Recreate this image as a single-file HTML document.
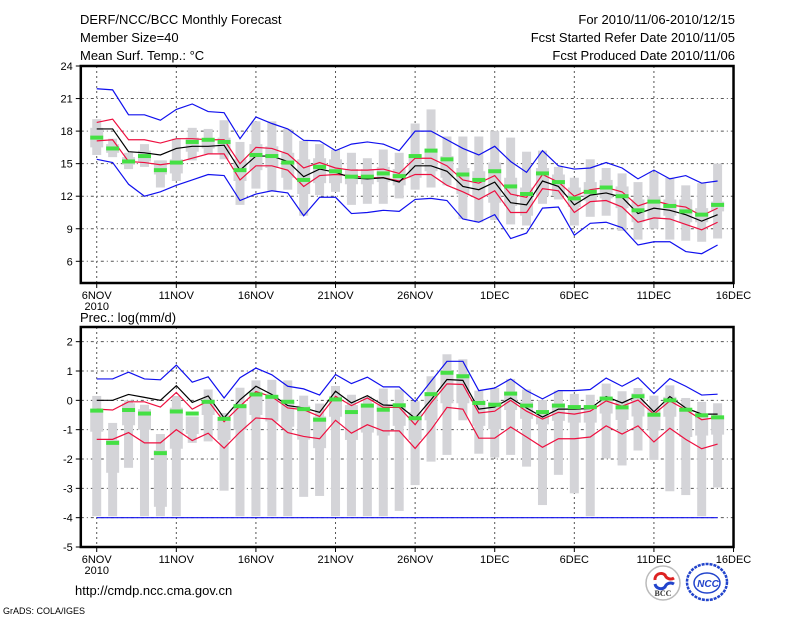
<!DOCTYPE html>
<html><head><meta charset="utf-8"><style>
html,body{margin:0;padding:0;background:#fff;}
svg{display:block;font-family:"Liberation Sans",sans-serif;}
</style></head><body>
<svg id="chart" width="800" height="618" viewBox="0 0 800 618" xmlns="http://www.w3.org/2000/svg">
<rect width="800" height="618" fill="#fff"/>
<g font-size="13" fill="#000">
<text x="80" y="24">DERF/NCC/BCC Monthly Forecast</text>
<text x="80" y="42">Member Size=40</text>
<text x="80" y="60">Mean Surf. Temp.: °C</text>
<text x="735" y="24" text-anchor="end">For 2010/11/06-2010/12/15</text>
<text x="735" y="42" text-anchor="end">Fcst Started Refer Date 2010/11/05</text>
<text x="735" y="60" text-anchor="end">Fcst Produced Date 2010/11/06</text>
<text x="80" y="322">Prec.: log(mm/d)</text>
<text x="75" y="595">http://cmdp.ncc.cma.gov.cn</text>
<text x="3" y="614" font-size="9">GrADS: COLA/IGES</text>
</g>
<g>
<circle cx="663" cy="583" r="17" fill="#fff" stroke="#bbb" stroke-width="1.5"/>
<path d="M655 580 a6 6 0 0 1 10 -5 a6 6 0 0 0 9 3" fill="none" stroke="#d22" stroke-width="3"/>
<path d="M655 584 a6 6 0 0 0 10 3 a6 6 0 0 1 9 -3" fill="none" stroke="#24c" stroke-width="3"/>
<text x="663" y="596" font-size="8" font-weight="bold" text-anchor="middle" fill="#333" font-family="Liberation Serif,serif">BCC</text>
</g>
<g>
<ellipse cx="707" cy="582" rx="20" ry="18" fill="#fff" stroke="#24c" stroke-width="2.5" stroke-dasharray="3 1"/>
<ellipse cx="707" cy="583" rx="13" ry="10" fill="none" stroke="#24c" stroke-width="1.5"/>
<text x="708" y="587" font-size="10" font-weight="bold" font-style="italic" text-anchor="middle" fill="#24c">NCC</text>
</g>
<g id="top"></g>
<g id="bot"></g>
</svg>
<script>
const dayLabels=["6NOV","11NOV","16NOV","21NOV","26NOV","1DEC","6DEC","11DEC","16DEC"];
const tTicks=[24,21,18,15,12,9,6];
const pTicks=[2,1,0,-1,-2,-3,-4,-5];
// Temperature panel
const tBlueHi=[21.9,21.8,19.5,19.5,19.0,20.0,20.5,19.8,19.7,17.3,19.3,18.7,18.2,17.15,17.1,16.2,16.8,17.0,16.8,16.2,18.0,18.0,17.2,16.4,15.8,16.6,15.2,14.2,16.2,14.8,14.5,14.6,15.1,14.6,13.6,14.4,13.6,13.9,13.2,13.4];
const tBlueLo=[15.4,15.1,13.1,12.0,12.4,13.0,13.5,14.0,13.9,11.6,12.2,12.5,12.3,10.2,11.9,11.9,10.4,10.5,10.7,10.6,11.7,11.8,11.6,9.9,9.6,10.3,8.1,8.6,10.9,11.0,8.4,9.5,9.6,9.1,7.5,7.8,7.8,6.9,6.7,7.5];
const tRedHi=[18.8,19.1,17.2,17.2,16.9,17.3,17.3,17.2,17.2,15.0,16.5,16.4,15.9,14.6,15.1,14.6,14.4,14.4,14.5,14.1,15.5,15.5,14.8,13.5,13.2,13.9,12.2,11.9,14.0,13.3,12.0,12.6,12.8,12.4,11.1,11.6,11.2,11.0,10.2,10.9];
const tRedLo=[17.1,17.2,15.2,15.1,14.9,15.1,15.5,15.9,15.9,13.5,14.8,14.8,14.4,12.9,13.9,14.0,13.9,13.7,13.7,13.4,14.0,14.0,13.0,12.4,11.7,12.5,10.5,10.5,12.7,12.5,10.5,11.5,11.6,11.0,9.6,10.0,9.9,9.4,8.9,9.6];
const tMean=[18.2,18.2,16.1,16.0,15.8,16.4,16.6,16.6,16.7,14.4,15.7,15.7,15.2,13.8,14.5,14.2,13.7,13.6,13.7,13.3,14.8,14.8,14.3,12.9,12.6,13.3,11.4,11.2,13.4,12.9,11.2,12.1,12.3,11.9,10.4,10.9,10.7,10.3,9.7,10.3];
const tObs=[17.4,16.4,15.2,15.7,14.4,15.1,17.0,17.2,17.0,14.4,15.8,15.7,15.1,13.5,14.7,14.3,13.8,13.8,14.1,13.85,15.7,16.2,15.4,14.0,13.5,14.3,12.9,12.2,14.1,13.3,11.8,12.4,12.8,12.0,10.7,11.5,11.1,10.6,10.3,11.2];
const tWMax=[19.1,17.3,16.0,16.8,15.3,17.3,18.3,18.2,19.0,17.0,18.9,18.9,18.2,17.1,16.8,16.3,16.0,15.5,16.3,16.0,18.7,20.0,17.5,17.5,17.5,18.0,17.4,16.1,16.2,14.7,13.7,15.4,14.6,14.1,13.3,14.2,13.7,13.0,13.2,15.0];
const tWMin=[15.8,15.6,14.5,14.7,12.8,13.4,15.3,15.9,15.4,11.2,12.7,12.5,12.6,10.2,12.1,12.4,11.2,11.3,11.3,11.8,12.6,12.8,13.0,9.9,9.6,9.8,9.4,9.3,11.3,11.7,9.3,10.1,10.2,8.8,8.0,9.0,8.0,7.9,7.8,8.1];
const tBoxHi=[18.3,16.8,15.6,16.2,15.3,15.4,17.4,17.3,17.4,15.4,16.8,16.6,16.0,15.4,15.5,15.4,14.5,14.5,14.7,14.5,15.8,16.4,15.7,14.6,14.3,15.1,13.7,12.8,14.6,14.0,12.8,13.3,13.5,12.9,11.7,12.0,11.7,11.7,10.9,11.5];
const tBoxLo=[16.5,16.0,14.9,15.2,14.0,14.1,16.1,16.4,16.0,13.4,14.4,14.6,13.7,12.2,13.2,13.2,13.1,13.1,13.3,13.0,13.7,14.3,13.7,12.2,11.9,11.4,11.1,10.2,12.0,12.1,11.0,11.6,11.8,10.9,9.6,9.9,10.2,9.6,9.6,10.6];
// Precipitation panel
const pBlueHi=[0.73,0.73,0.96,0.73,0.7,1.2,0.62,0.8,0.08,0.77,1.1,0.87,0.48,0.39,0.18,0.88,0.57,0.79,0.46,0.46,-0.04,0.65,1.33,1.33,0.33,0.42,0.73,0.33,0.05,0.33,0.33,0.37,0.76,0.48,0.77,0.23,0.74,0.48,0.18,0.21];
const pBlueLo=[-4,-4,-4,-4,-4,-4,-4,-4,-4,-4,-4,-4,-4,-4,-4,-4,-4,-4,-4,-4,-4,-4,-4,-4,-4,-4,-4,-4,-4,-4,-4,-4,-4,-4,-4,-4,-4,-4,-4,-4];
const pRedHi=[-0.3,-0.33,-0.05,-0.05,-0.23,0.27,-0.3,-0.02,-0.73,-0.2,0.3,0.12,-0.26,-0.32,-0.55,0.14,-0.18,0.08,-0.24,-0.24,-0.83,-0.09,0.56,0.54,-0.43,-0.37,0.0,-0.37,-0.64,-0.41,-0.47,-0.37,-0.02,-0.2,0.01,-0.47,-0.02,-0.32,-0.66,-0.58];
const pRedLo=[-1.33,-1.33,-1.1,-1.45,-1.45,-1.0,-1.37,-1.12,-1.63,-1.08,-0.6,-0.64,-1.1,-1.23,-1.31,-0.68,-1.12,-0.83,-1.04,-1.04,-1.64,-1.0,-0.24,-0.3,-1.29,-1.29,-0.91,-1.25,-1.6,-1.31,-1.31,-1.25,-0.87,-1.15,-0.87,-1.42,-0.95,-1.33,-1.65,-1.49];
const pMean=[0,0,0.2,0.1,0,0.5,-0.07,0.15,-0.6,0.02,0.48,0.2,-0.18,-0.26,-0.41,0.31,-0.09,0.16,-0.16,-0.18,-0.61,0.02,0.71,0.68,-0.3,-0.23,0.08,-0.26,-0.57,-0.3,-0.3,-0.28,0.13,-0.09,0.16,-0.39,0.13,-0.26,-0.47,-0.47];
const pObs=[-0.35,-1.45,-0.33,-0.45,-1.8,-0.38,-0.45,-0.05,-0.63,-0.2,0.2,0.12,-0.05,-0.3,-0.66,0.03,-0.4,-0.18,-0.32,-0.17,-0.61,0.21,0.94,0.82,-0.09,-0.15,0.23,-0.18,-0.4,-0.18,-0.23,-0.23,0.06,-0.24,0.14,-0.49,0.0,-0.32,-0.51,-0.58];
const pWMax=[0.15,-0.77,0.0,-0.15,-1.15,0.15,-0.55,0.37,-0.43,0.43,0.68,0.7,0.68,0.16,-0.11,0.49,0.19,0.13,0.4,0.37,-0.03,0.82,1.57,1.4,0.33,0.42,0.73,0.37,0.01,0.33,0.22,0.19,0.57,0.31,0.42,0.16,0.51,0.08,-0.05,-0.1];
const pWMin=[-3.95,-3.95,-2.3,-3.95,-3.95,-3.95,-1.45,-1.4,-3.08,-3.95,-3.95,-3.95,-3.95,-3.29,-3.26,-3.95,-3.95,-3.95,-3.95,-3.77,-2.89,-2.09,-1.86,-0.68,-1.82,-1.95,-1.86,-2.26,-3.57,-2.54,-3.17,-3.95,-1.98,-2.22,-1.71,-2.03,-3.1,-3.23,-3.95,-2.97];
const pBoxHi=[-0.3,-1.35,-0.1,-0.3,-1.7,-0.25,-0.55,0.0,-0.67,-0.2,0.3,0.12,-0.05,-0.18,-0.55,0.15,-0.16,-0.1,-0.16,-0.1,-0.4,0.24,1.0,0.9,0.0,-0.05,0.27,-0.05,-0.33,-0.1,-0.16,-0.2,0.12,0.0,0.24,-0.27,0.12,-0.27,-0.5,-0.56];
const pBoxLo=[-1.07,-2.47,-0.85,-1.0,-3.63,-1.65,-1.15,-0.5,-1.35,-1.0,-0.5,-0.72,-0.9,-1.34,-1.63,-0.56,-1.35,-1.1,-1.2,-0.87,-1.35,-0.68,-0.1,-0.1,-0.87,-0.98,-0.33,-0.63,-0.82,-0.7,-0.76,-0.76,-0.45,-0.67,-0.55,-1.03,-0.56,-1.25,-1.2,-1.17];

const NS="http://www.w3.org/2000/svg";
const X0=80.8, PXD=15.92;
function xScale(d){return X0+(d+1)*PXD;}
function mk(parent,tag,attrs){const e=document.createElementNS(NS,tag);for(const k in attrs)e.setAttribute(k,attrs[k]);parent.appendChild(e);return e;}

function panel(gid,top,bot,vmin,vmax,ticks,S){
  const g=document.getElementById(gid);
  const yScale=v=>top+(vmax-v)/(vmax-vmin)*(bot-top);
  const L=xScale(-1),R=xScale(40);
  // grid
  ticks.forEach(t=>{
    if(t<=vmin||t>=vmax)return;
    const gl=mk(g,'line',{x1:L,x2:R,y1:yScale(t),y2:yScale(t),stroke:'#555','stroke-width':1,'stroke-dasharray':'3 3 1 3'});
    
    
  });
  for(let i=0;i<8;i++){
    const vl=mk(g,'line',{x1:xScale(i*5),x2:xScale(i*5),y1:top,y2:bot,stroke:'#555','stroke-width':1,'stroke-dasharray':'2 3'});
    
    
  }
  // gray bars
  for(let d=0;d<S.wmax.length;d++){
    const x=xScale(d);
    const w=mk(g,'rect',{x:x-4.5,width:9,y:yScale(S.wmax[d]),height:yScale(S.wmin[d])-yScale(S.wmax[d]),fill:'#d4d4d8'});
    
    
    const b=mk(g,'rect',{x:x-6.5,width:13,y:yScale(S.bhi[d]),height:yScale(S.blo[d])-yScale(S.bhi[d]),fill:'#d4d4d8'});
    
    
  }
  function line(arr,color,name){
    const p=mk(g,'polyline',{points:arr.map((v,d)=>xScale(d)+','+yScale(v)).join(' '),fill:'none',stroke:color,'stroke-width':1.2});
    
    
  }
  line(S.bhi0,'#1010ee','blue-upper-line');
  line(S.blo0,'#1010ee','blue-lower-line');
  line(S.rhi,'#ee1040','red-upper-line');
  line(S.rlo,'#ee1040','red-lower-line');
  line(S.mean,'#000','ensemble-mean-line');
  for(let d=0;d<S.obs.length;d++){
    const o=mk(g,'rect',{x:xScale(d)-6.5,width:13,y:yScale(S.obs[d])-2,height:4,fill:'#44e044'});
    
    
  }
  // frame
  const f=mk(g,'rect',{x:L,y:top,width:R-L,height:bot-top,fill:'none',stroke:'#000','stroke-width':2.5});
  
  
  // y ticks
  ticks.forEach(t=>{
    const y=yScale(t);
    mk(g,'line',{x1:L-5,x2:L,y1:y,y2:y,stroke:'#000'});
    const tx=mk(g,'text',{x:L-8,y:y+4,'font-size':11,'text-anchor':'end'});
    tx.textContent=t;
    
    
  });
  // x ticks
  dayLabels.forEach((lab,i)=>{
    const x=xScale(i*5);
    mk(g,'line',{x1:x,x2:x,y1:bot,y2:bot+5,stroke:'#000'});
    const tx=mk(g,'text',{x:x,y:bot+16,'font-size':11,'text-anchor':'middle'});
    tx.textContent=lab;
    
    
  });
  const yr=mk(g,'text',{x:xScale(0),y:bot+27,'font-size':11,'text-anchor':'middle'});
  yr.textContent='2010';
  
  
}
panel('top',66,283,4,24,tTicks,{wmax:tWMax,wmin:tWMin,bhi:tBoxHi,blo:tBoxLo,bhi0:tBlueHi,blo0:tBlueLo,rhi:tRedHi,rlo:tRedLo,mean:tMean,obs:tObs});
panel('bot',327,547,-5,2.5,pTicks,{wmax:pWMax,wmin:pWMin,bhi:pBoxHi,blo:pBoxLo,bhi0:pBlueHi,blo0:pBlueLo,rhi:pRedHi,rlo:pRedLo,mean:pMean,obs:pObs});
</script>
</body></html>
